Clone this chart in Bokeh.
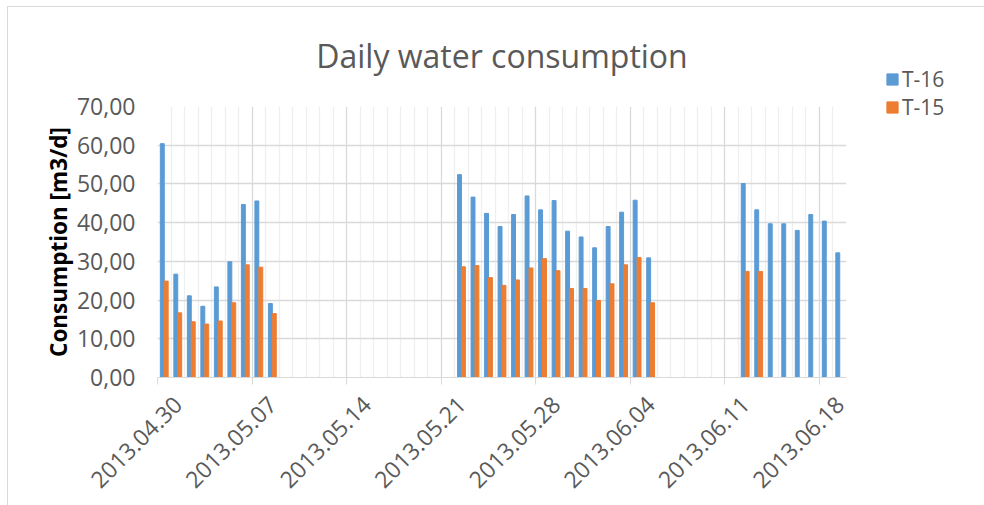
import math
import pandas as pd
from bokeh.plotting import figure
from bokeh.layouts import row, column
from bokeh.models import (ColumnDataSource, Range1d, FixedTicker, Spacer,
                          CustomJSTickFormatter, Legend, LegendItem, DatetimeAxis)
from bokeh.embed import file_html
from bokeh.resources import INLINE

# ---- data ----
t16_dates = ["2013-04-30", "2013-05-01", "2013-05-02", "2013-05-03", "2013-05-04", "2013-05-05",
             "2013-05-06", "2013-05-07", "2013-05-08",
             "2013-05-22", "2013-05-23", "2013-05-24", "2013-05-25", "2013-05-26", "2013-05-27",
             "2013-05-28", "2013-05-29", "2013-05-30", "2013-05-31", "2013-06-01", "2013-06-02",
             "2013-06-03", "2013-06-04", "2013-06-05",
             "2013-06-12", "2013-06-13", "2013-06-14", "2013-06-15", "2013-06-16", "2013-06-17",
             "2013-06-18", "2013-06-19"]
t16_values = [60.4, 26.7, 21.1, 18.4, 23.4, 29.9, 44.7, 45.6, 19.1,
              52.4, 46.6, 42.4, 39.0, 42.1, 46.9, 43.3, 45.7, 37.8, 36.3, 33.5, 39.0,
              42.7, 45.8, 30.9,
              50.1, 43.3, 39.7, 39.7, 38.0, 42.1, 40.4, 32.2]

t15_dates = ["2013-04-30", "2013-05-01", "2013-05-02", "2013-05-03", "2013-05-04", "2013-05-05",
             "2013-05-06", "2013-05-07", "2013-05-08",
             "2013-05-22", "2013-05-23", "2013-05-24", "2013-05-25", "2013-05-26", "2013-05-27",
             "2013-05-28", "2013-05-29", "2013-05-30", "2013-05-31", "2013-06-01", "2013-06-02",
             "2013-06-03", "2013-06-04", "2013-06-05",
             "2013-06-12", "2013-06-13"]
t15_values = [24.9, 16.7, 14.4, 13.8, 14.6, 19.3, 29.1, 28.5, 16.5,
              28.6, 28.9, 25.8, 23.8, 25.2, 28.3, 30.7, 27.6, 23.0, 23.0, 19.9, 24.2,
              29.1, 31.0, 19.3,
              27.4, 27.4]

tick_dates = ["2013-04-30", "2013-05-07", "2013-05-14", "2013-05-21", "2013-05-28",
              "2013-06-04", "2013-06-11", "2013-06-18"]
x_start, x_end = "2013-04-30", "2013-06-20"

title_text = "Daily water consumption"
y_label = "Consumption [m3/d]"
series_names = ["T-16", "T-15"]
colors = ["#5B9BD5", "#ED7D31"]

# ---- build ----
DAY = 86400000.0
def ms(s):
    return pd.Timestamp(s).value / 1e6

bar_w = 0.29 * DAY
src16 = ColumnDataSource(dict(x=[ms(d) + 0.5 * DAY - bar_w / 2 for d in t16_dates], top=t16_values))
src15 = ColumnDataSource(dict(x=[ms(d) + 0.5 * DAY + bar_w / 2 for d in t15_dates], top=t15_values))

FONT = "Open Sans"
GREY = "#595959"
LINE = "#D9D9D9"
p = figure(width=870, height=505, x_axis_type="datetime", output_backend="svg",
           toolbar_location=None, min_border_left=157, min_border_right=24,
           min_border_top=106, min_border_bottom=128,
           x_range=Range1d(ms(x_start), ms(x_end)), y_range=Range1d(0, 70))
p.outline_line_color = None
p.background_fill_color = "white"
p.border_fill_color = None

p.title.text = title_text
p.title.align = "center"
p.title.text_font = FONT
p.title.text_font_size = "32px"
p.title.text_font_style = "normal"
p.title.text_color = GREY
p.title.standoff = 60

p.vbar(x="x", top="top", width=bar_w, bottom=0, source=src16, color=colors[0])
p.vbar(x="x", top="top", width=bar_w, bottom=0, source=src15, color=colors[1])

major = [ms(d) for d in tick_dates]
minor = [ms(x_start) + i * DAY for i in range(0, 52)]
minor = [m for m in minor if m not in major]
p.xaxis.ticker = FixedTicker(ticks=major, minor_ticks=minor)
p.xaxis.formatter = CustomJSTickFormatter(code="return '';")
p.xaxis.axis_line_color = LINE
p.xaxis.major_tick_line_color = LINE
p.xaxis.major_tick_out = 7
p.xaxis.major_tick_in = 0
p.xaxis.minor_tick_line_color = None
p.xaxis.major_label_standoff = 0

# label axis: rotated date labels, placed like Excel's
shift = 1.5 * DAY
lab_axis = DatetimeAxis(ticker=FixedTicker(ticks=[m + shift for m in major]),
                        formatter=CustomJSTickFormatter(args=dict(shift=shift), code="""
const d = new Date(tick - shift);
const mm = String(d.getUTCMonth() + 1).padStart(2, '0');
const dd = String(d.getUTCDate()).padStart(2, '0');
return d.getUTCFullYear() + '.' + mm + '.' + dd;
"""))
lab_axis.axis_line_color = None
lab_axis.major_tick_line_color = None
lab_axis.minor_tick_line_color = None
lab_axis.major_tick_out = 0
lab_axis.major_label_orientation = math.pi / 4
lab_axis.major_label_text_font = FONT
lab_axis.major_label_text_font_size = "23px"
lab_axis.major_label_text_color = GREY
lab_axis.major_label_standoff = 16
p.add_layout(lab_axis, "below")

p.yaxis.ticker = FixedTicker(ticks=[0, 10, 20, 30, 40, 50, 60, 70])
p.yaxis.formatter = CustomJSTickFormatter(code="return tick.toFixed(2).replace('.', ',');")
p.yaxis.major_label_text_font = FONT
p.yaxis.major_label_text_font_size = "23px"
p.yaxis.major_label_text_color = GREY
p.yaxis.axis_line_color = None
p.yaxis.major_tick_line_color = None
p.yaxis.minor_tick_line_color = None
p.yaxis.major_tick_out = 0
p.yaxis.major_tick_in = 0
p.yaxis.major_label_standoff = 22
p.yaxis.axis_label = y_label
p.yaxis.axis_label_text_font = FONT
p.yaxis.axis_label_text_font_size = "22.5px"
p.yaxis.axis_label_text_font_style = "bold"
p.yaxis.axis_label_text_color = "#000000"
p.yaxis.axis_label_standoff = 0

p.xgrid.grid_line_color = LINE
p.xgrid.grid_line_width = 1.3
p.xgrid.minor_grid_line_color = "#EFEFEF"
p.xgrid.minor_grid_line_width = 1.3
p.ygrid.grid_line_color = LINE
p.ygrid.grid_line_width = 1.3

# ---- legend panel (separate small figure to the right) ----
lg = figure(width=114, height=70, output_backend="svg", toolbar_location=None,
            x_axis_location=None, y_axis_location=None,
            min_border_left=15, min_border_right=0, min_border_top=0, min_border_bottom=0,
            x_range=Range1d(0, 1), y_range=Range1d(0, 1))
lg.outline_line_color = None
lg.background_fill_color = None
lg.border_fill_color = None
lg.grid.visible = False
k16 = lg.vbar(x="x", top="top", width=bar_w, source=src16, color=colors[0])
k15 = lg.vbar(x="x", top="top", width=bar_w, source=src15, color=colors[1])
legend = Legend(items=[LegendItem(label=series_names[0], renderers=[k16]),
                       LegendItem(label=series_names[1], renderers=[k15])],
                location="top_left", orientation="vertical")
legend.label_text_font = FONT
legend.label_text_font_size = "21px"
legend.label_text_color = GREY
legend.glyph_width = 14
legend.glyph_height = 14
legend.label_standoff = 3
legend.spacing = 0
legend.padding = 0
legend.margin = 0
legend.border_line_color = None
legend.background_fill_alpha = 0
lg.add_layout(legend)

layout = row(p, column(Spacer(width=114, height=65), lg, spacing=0), spacing=0)
# chart-area border (left and top edges) painted behind the transparent canvas border
layout.styles = {"background-color": "white",
                 "box-shadow": "inset 7px 6px 0 0 white, inset 8px 7px 0 0 " + LINE}
open("out.html", "w").write(file_html(layout, INLINE))
